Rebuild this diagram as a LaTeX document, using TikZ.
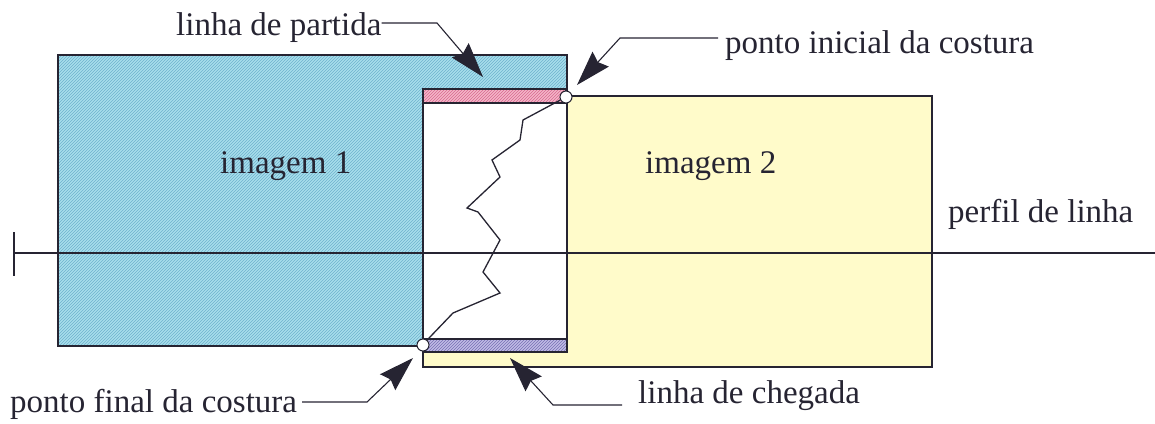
\documentclass[tikz,border=0pt]{standalone}
\usepackage{fontspec}
\setmainfont{Liberation Serif}
\usetikzlibrary{patterns,arrows.meta}
\definecolor{bluebase}{RGB}{168,222,236}
\definecolor{bluehatch}{RGB}{110,178,205}
\definecolor{yel}{RGB}{255,251,202}
\definecolor{pinkbase}{RGB}{245,182,200}
\definecolor{pinkhatch}{RGB}{215,105,145}
\definecolor{purbase}{RGB}{192,188,230}
\definecolor{purhatch}{RGB}{120,112,180}
\definecolor{ink}{RGB}{38,36,50}
\begin{document}
\begin{tikzpicture}[x=1pt,y=-1pt,
  lbl/.style={inner sep=0pt, anchor=base west, font=\fontsize{33}{40}\selectfont, text=ink},
  border/.style={draw=ink, line width=1.4pt},
  leader/.style={draw=ink, line width=1.1pt, -{Stealth[length=35pt,width=22pt,inset=4pt]}},
  seampt/.style={circle, draw=ink, fill=white, line width=1pt, minimum size=12pt, inner sep=0pt}]
\useasboundingbox (0,0) rectangle (1155,423);
% image 1
\fill[bluebase] (58,55) rectangle (567,346);
\fill[pattern=north east lines, pattern color=bluehatch] (58,55) rectangle (567,346);
% image 2
\fill[yel] (423,96) rectangle (932,367);
% overlap
\fill[white] (423,96) rectangle (567,346);
\draw[border] (58,55) rectangle (567,346);
\draw[border] (423,96) rectangle (932,367);
% bars
\fill[pinkbase] (423,89) rectangle (566,103);
\fill[pattern=north east lines, pattern color=pinkhatch] (423,89) rectangle (566,103);
\draw[draw=ink, line width=1.1pt] (423,89) rectangle (566,103);
\fill[purbase] (423,339) rectangle (567,352);
\fill[pattern=north east lines, pattern color=purhatch] (423,339) rectangle (567,352);
\draw[draw=ink, line width=1.1pt] (423,339) rectangle (567,352);
% profile line
\coordinate (pl0) at (14,253);
\coordinate (pl1) at (1155,253);
\draw[draw=ink, line width=2pt] (pl0) -- (pl1);
\draw[draw=ink, line width=2pt] (14,232) -- (14,276);
% seam
\node[seampt] (start) at (566,97) {};
\node[seampt] (end) at (423,345) {};
\draw[draw=ink, line width=1.3pt] (start) -- (523,120) -- (520,140) -- (492,160) -- (500,177)
  -- (467,208) -- (478,212) -- (500,240) -- (483,272) -- (500,293) -- (453,313) -- (430,337) -- (end);
% labels
\node[lbl] (lp) at (176,35) {linha de partida};
\node[lbl] (pi) at (725,53) {ponto inicial da costura};
\node[lbl] (im1) at (220,173) {imagem 1};
\node[lbl] (im2) at (645,173) {imagem 2};
\node[lbl] (pl) at (948,222) {perfil de linha};
\node[lbl] (pf) at (10,412) {ponto final da costura};
\node[lbl] (lc) at (638,403) {linha de chegada};
% leaders
\coordinate (lpk) at (437,23);
\coordinate (lpt) at (483,77);
\draw[leader] (lp.east |- lpk) -- (lpk) -- (lpt);
\coordinate (pik) at (620,38);
\coordinate (pit) at (577,85);
\draw[leader] ([xshift=-7pt]pi.west |- pik) -- (pik) -- (pit);
\coordinate (pfk) at (367,402);
\coordinate (pft) at (413,358);
\draw[leader] ([xshift=5pt]pf.east |- pfk) -- (pfk) -- (pft);
\coordinate (lck) at (553,405);
\coordinate (lct) at (510,358);
\draw[leader] ([xshift=-16pt]lc.west |- lck) -- (lck) -- (lct);
\end{tikzpicture}
\end{document}
